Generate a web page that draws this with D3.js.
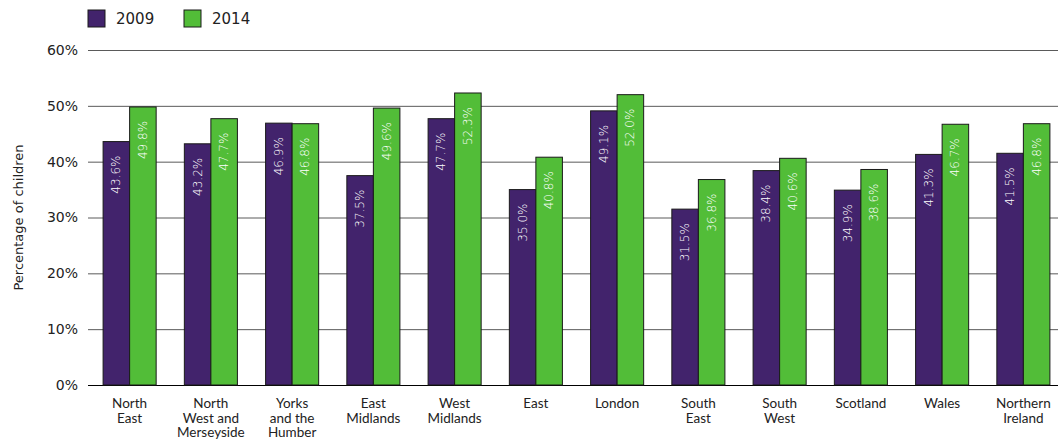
<!DOCTYPE html>
<html>
<head>
<meta charset="utf-8">
<script src="https://cdn.jsdelivr.net/npm/d3@7"></script>
<style>
  body { margin: 0; background: #fff; }
  svg { display: block; }
</style>
</head>
<body>
<svg id="chart" width="1058" height="439"></svg>
<script>
const regions = [
  ['North', 'East'],
  ['North', 'West and', 'Merseyside'],
  ['Yorks', 'and the', 'Humber'],
  ['East', 'Midlands'],
  ['West', 'Midlands'],
  ['East'],
  ['London'],
  ['South', 'East'],
  ['South', 'West'],
  ['Scotland'],
  ['Wales'],
  ['Northern', 'Ireland']
]
const years = ['2009', '2014']
const values2009 = [43.6, 43.2, 46.9, 37.5, 47.7, 35.0, 49.1, 31.5, 38.4, 34.9, 41.3, 41.5]
const values2014 = [49.8, 47.7, 46.8, 49.6, 52.3, 40.8, 52.0, 36.8, 40.6, 38.6, 46.7, 46.8]
const yTicks = [0, 10, 20, 30, 40, 50, 60]

const colors = { '2009': '#42236c', '2014': '#52bd38' }

const svg = d3.select('#chart')
const mTop = 50
const mBottom = 385
const mLeft = 89
const mRight = 1064

const x0 = d3.scaleBand()
  .domain(d3.range(regions.length))
  .range([mLeft, mRight])
  .paddingInner(0.347)
  .paddingOuter(0.1735)
const x1 = d3.scaleBand().domain(years).range([0, x0.bandwidth()])
const y = d3.scaleLinear().domain([0, 60]).range([mBottom, mTop])

// gridlines + tick labels
const yAxis = d3.axisLeft(y)
  .tickValues(yTicks)
  .tickSize(-(1058 - 88))
  .tickPadding(10)
  .tickFormat(d => d + '%')
svg.append('g')
  .attr('transform', `translate(88,0)`)
  .call(yAxis)
  .call(g => g.select('.domain').remove())
  .call(g => g.selectAll('line').attr('stroke', d => d === 0 ? '#000' : '#5a5a5a').attr('stroke-width', 1))
  .call(g => g.selectAll('text')
    .attr('fill', '#222')
    .style('font-family', 'DejaVu Sans')
    .style('font-size', '14px'))

svg.append('text')
  .attr('transform', `translate(23,${(mTop + mBottom) / 2}) rotate(-90)`)
  .attr('text-anchor', 'middle')
  .attr('fill', '#222')
  .style('font-family', 'DejaVu Sans')
  .style('font-size', '13px')
  .text('Percentage of children')

const rows = regions.map((r, i) => ({ i, vals: [
  { year: '2009', v: values2009[i] },
  { year: '2014', v: values2014[i] }
] }))

const groups = svg.selectAll('.grp')
  .data(rows)
  .join('g')
  .attr('class', 'grp')
  .attr('transform', d => `translate(${x0(d.i)},0)`)

groups.selectAll('rect')
  .data(d => d.vals)
  .join('rect')
  .attr('x', d => x1(d.year))
  .attr('y', d => y(d.v))
  .attr('width', x1.bandwidth())
  .attr('height', d => y(0) - y(d.v))
  .attr('fill', d => colors[d.year])
  .attr('stroke', '#1a1a1a')
  .attr('stroke-width', 1)

groups.selectAll('text.val')
  .data(d => d.vals)
  .join('text')
  .attr('class', 'val')
  .attr('transform', d => `translate(${x1(d.year) + x1.bandwidth() / 2 + 4},${y(d.v) + 14}) rotate(-90)`)
  .attr('text-anchor', 'end')
  .attr('fill', '#fff')
  .style('font-family', 'DejaVu Sans')
  .style('font-size', '12px')
  .style('font-weight', '300')
  .text(d => d.v.toFixed(1) + '%')

// category labels
groups.append('text')
  .attr('text-anchor', 'middle')
  .attr('fill', '#222')
  .style('font-family', 'Lato')
  .style('font-size', '13.5px')
  .selectAll('tspan')
  .data(d => regions[d.i])
  .join('tspan')
  .attr('x', x0.bandwidth() / 2)
  .attr('y', (d, k) => 408 + k * 14.5)
  .text(d => d)

// legend
const legend = svg.append('g')
years.forEach((yr, k) => {
  const lx = 88 + k * 96
  legend.append('rect')
    .attr('x', lx).attr('y', 10).attr('width', 17).attr('height', 17)
    .attr('fill', colors[yr]).attr('stroke', '#1a1a1a').attr('stroke-width', 1)
  legend.append('text')
    .attr('x', lx + 28).attr('y', 24)
    .attr('fill', '#222')
    .style('font-family', 'DejaVu Sans')
    .style('font-size', '15px')
    .text(yr)
})
</script>
</body>
</html>
